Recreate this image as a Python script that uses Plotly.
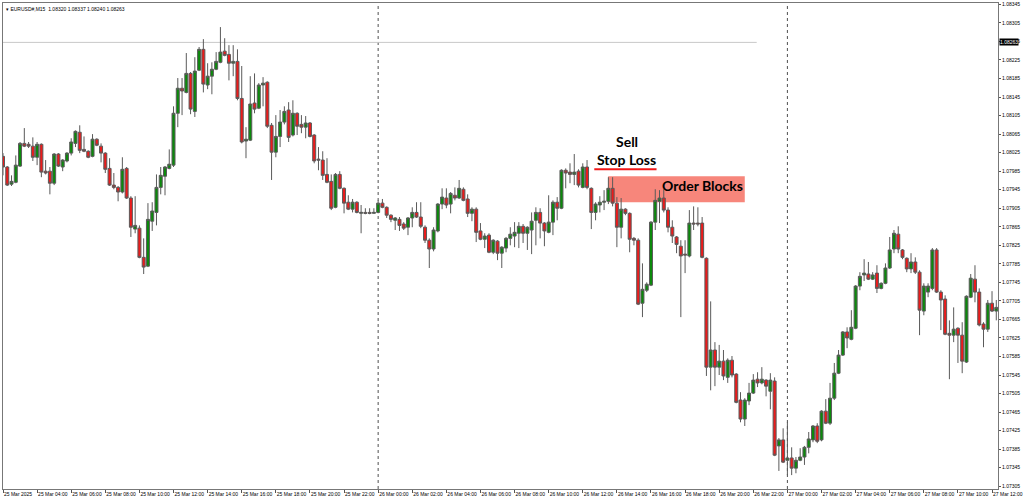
import plotly.graph_objects as go

# ---- data (EURUSD#, M15, 25 Mar 2025 02:00 -> 27 Mar 2025 12:15) ----
opens = [1.08017,1.07994,1.07957,1.07961,1.07996,1.08045,1.08043,1.08039,1.08015,1.08043,
1.07985,1.07985,1.07959,1.08022,1.07994,1.08007,1.08024,1.08045,1.08069,1.08032,
1.08028,1.08017,1.08054,1.08039,1.08024,1.07991,1.07955,1.07950,1.07940,1.07991,
1.07927,1.07860,1.07862,1.07799,1.07780,1.07877,1.07896,1.07950,1.07974,1.07991,
1.07998,1.08110,1.08164,1.08155,1.08196,1.08114,1.08203,1.08248,1.08171,1.08190,
1.08205,1.08220,1.08244,1.08237,1.08218,1.08222,1.08142,1.08050,1.08052,1.08132,
1.08121,1.08171,1.08177,1.08084,1.08026,1.08060,1.08091,1.08117,1.08063,1.08110,
1.08086,1.08080,1.08089,1.08063,1.08011,1.08009,1.07978,1.07963,1.07907,1.07978,
1.07948,1.07918,1.07903,1.07918,1.07894,1.07896,1.07896,1.07894,1.07896,1.07916,
1.07907,1.07890,1.07879,1.07881,1.07871,1.07864,1.07884,1.07896,1.07886,1.07864,
1.07836,1.07817,1.07856,1.07914,1.07927,1.07914,1.07933,1.07927,1.07946,1.07925,
1.07894,1.07903,1.07856,1.07838,1.07847,1.07810,1.07834,1.07808,1.07819,1.07840,
1.07845,1.07851,1.07866,1.07851,1.07858,1.07879,1.07896,1.07873,1.07853,1.07875,
1.07918,1.07905,1.07987,1.07983,1.07978,1.07985,1.07950,1.07994,1.07948,1.07896,
1.07912,1.07918,1.07920,1.07948,1.07916,1.07864,1.07903,1.07894,1.07840,1.07836,
1.07700,1.07728,1.07739,1.07875,1.07920,1.07927,1.07901,1.07864,1.07843,1.07823,
1.07806,1.07802,1.07873,1.07873,1.07873,1.07797,1.07562,1.07599,1.07562,1.07575,
1.07540,1.07577,1.07547,1.07491,1.07450,1.07489,1.07506,1.07536,1.07528,1.07534,
1.07510,1.07532,1.07392,1.07405,1.07361,1.07366,1.07344,1.07361,1.07368,1.07389,
1.07405,1.07435,1.07405,1.07467,1.07441,1.07495,1.07549,1.07588,1.07638,1.07622,
1.07646,1.07737,1.07761,1.07763,1.07752,1.07765,1.07732,1.07743,1.07776,1.07817,
1.07849,1.07815,1.07797,1.07774,1.07789,1.07767,1.07683,1.07724,1.07732,1.07815,
1.07724,1.07709,1.07635,1.07631,1.07646,1.07631,1.07573,1.07713,1.07752,1.07724,
1.07655,1.07644,1.07700,1.07683]
highs = [1.08024,1.07996,1.07976,1.08019,1.08048,1.08078,1.08048,1.08058,1.08048,1.08045,
1.08009,1.07994,1.08024,1.08024,1.08011,1.08026,1.08056,1.08073,1.08084,1.08060,
1.08030,1.08065,1.08056,1.08045,1.08026,1.08013,1.07981,1.07953,1.08015,1.07994,
1.07931,1.07931,1.07868,1.07840,1.07916,1.07918,1.07978,1.07994,1.07996,1.08032,
1.08125,1.08186,1.08186,1.08240,1.08199,1.08231,1.08253,1.08270,1.08218,1.08220,
1.08242,1.08296,1.08272,1.08257,1.08257,1.08248,1.08212,1.08080,1.08190,1.08196,
1.08175,1.08188,1.08179,1.08089,1.08106,1.08117,1.08125,1.08134,1.08138,1.08112,
1.08106,1.08104,1.08091,1.08065,1.08037,1.08028,1.08013,1.07978,1.07981,1.07985,
1.07950,1.07933,1.07925,1.07920,1.07912,1.07905,1.07905,1.07905,1.07922,1.07925,
1.07909,1.07892,1.07886,1.07886,1.07875,1.07886,1.07907,1.07918,1.07918,1.07868,
1.07840,1.07864,1.07916,1.07948,1.07948,1.07940,1.07950,1.07966,1.07950,1.07935,
1.07907,1.07907,1.07873,1.07851,1.07851,1.07838,1.07836,1.07823,1.07843,1.07864,
1.07875,1.07875,1.07871,1.07866,1.07896,1.07907,1.07905,1.07875,1.07933,1.07922,
1.07929,1.07989,1.07991,1.08002,1.08022,1.07989,1.08002,1.08009,1.07950,1.07918,
1.07931,1.07944,1.07972,1.07972,1.07929,1.07927,1.07905,1.07896,1.07843,1.07840,
1.07786,1.07745,1.07877,1.07946,1.07944,1.07946,1.07907,1.07879,1.07845,1.07836,
1.07836,1.07901,1.07909,1.07907,1.07886,1.07799,1.07704,1.07616,1.07610,1.07599,
1.07581,1.07586,1.07549,1.07508,1.07495,1.07528,1.07547,1.07551,1.07562,1.07536,
1.07549,1.07540,1.07409,1.07430,1.07443,1.07389,1.07368,1.07387,1.07392,1.07422,
1.07437,1.07441,1.07469,1.07493,1.07528,1.07571,1.07599,1.07640,1.07648,1.07685,
1.07739,1.07767,1.07795,1.07789,1.07767,1.07782,1.07745,1.07786,1.07843,1.07858,
1.07866,1.07817,1.07799,1.07808,1.07799,1.07771,1.07743,1.07743,1.07819,1.07819,
1.07728,1.07717,1.07663,1.07691,1.07648,1.07659,1.07717,1.07763,1.07782,1.07732,
1.07659,1.07707,1.07726,1.07707]
lows = [1.07976,1.07953,1.07953,1.07959,1.07994,1.08037,1.08035,1.08007,1.07998,1.07972,
1.07978,1.07935,1.07955,1.07994,1.07985,1.08004,1.08019,1.08037,1.08024,1.08026,
1.08013,1.08015,1.08039,1.08004,1.07981,1.07953,1.07946,1.07920,1.07937,1.07925,
1.07843,1.07851,1.07797,1.07763,1.07778,1.07856,1.07868,1.07935,1.07933,1.07989,
1.07994,1.08080,1.08106,1.08153,1.08108,1.08102,1.08201,1.08155,1.08162,1.08151,
1.08203,1.08218,1.08233,1.08181,1.08190,1.08138,1.08045,1.08013,1.08050,1.08110,
1.08119,1.08125,1.08078,1.07966,1.08015,1.08037,1.08086,1.08048,1.08060,1.08063,
1.08067,1.08056,1.08058,1.08002,1.07987,1.07966,1.07959,1.07901,1.07905,1.07946,
1.07894,1.07901,1.07896,1.07894,1.07851,1.07892,1.07892,1.07894,1.07894,1.07905,
1.07884,1.07875,1.07858,1.07856,1.07858,1.07847,1.07864,1.07884,1.07862,1.07830,
1.07776,1.07812,1.07853,1.07903,1.07905,1.07894,1.07922,1.07925,1.07920,1.07886,
1.07877,1.07832,1.07836,1.07819,1.07808,1.07806,1.07793,1.07776,1.07810,1.07825,
1.07821,1.07819,1.07830,1.07815,1.07806,1.07825,1.07840,1.07823,1.07851,1.07847,
1.07879,1.07903,1.07948,1.07959,1.07955,1.07950,1.07948,1.07946,1.07860,1.07879,
1.07896,1.07901,1.07914,1.07909,1.07821,1.07840,1.07890,1.07810,1.07825,1.07696,
1.07670,1.07724,1.07737,1.07858,1.07873,1.07896,1.07853,1.07830,1.07808,1.07670,
1.07765,1.07799,1.07858,1.07866,1.07797,1.07543,1.07512,1.07521,1.07545,1.07534,
1.07528,1.07540,1.07484,1.07443,1.07435,1.07480,1.07504,1.07519,1.07525,1.07499,
1.07471,1.07370,1.07338,1.07355,1.07329,1.07329,1.07333,1.07359,1.07351,1.07376,
1.07400,1.07398,1.07402,1.07439,1.07437,1.07491,1.07547,1.07586,1.07603,1.07620,
1.07644,1.07728,1.07748,1.07750,1.07750,1.07722,1.07730,1.07741,1.07774,1.07808,
1.07808,1.07795,1.07767,1.07765,1.07763,1.07631,1.07674,1.07713,1.07728,1.07722,
1.07642,1.07631,1.07536,1.07616,1.07571,1.07549,1.07571,1.07711,1.07702,1.07650,
1.07605,1.07638,1.07681,1.07663]
closes = [1.07994,1.07955,1.07963,1.07998,1.08045,1.08039,1.08039,1.08015,1.08043,1.07983,
1.07981,1.07959,1.08022,1.07996,1.08009,1.08024,1.08048,1.08071,1.08030,1.08028,
1.08015,1.08054,1.08041,1.08024,1.07989,1.07955,1.07950,1.07940,1.07989,1.07927,
1.07864,1.07868,1.07799,1.07778,1.07881,1.07899,1.07950,1.07976,1.07994,1.08000,
1.08110,1.08164,1.08158,1.08196,1.08119,1.08201,1.08248,1.08173,1.08190,1.08205,
1.08222,1.08242,1.08235,1.08218,1.08222,1.08142,1.08048,1.08054,1.08130,1.08119,
1.08171,1.08175,1.08082,1.08026,1.08060,1.08091,1.08114,1.08058,1.08110,1.08082,
1.08080,1.08089,1.08060,1.08007,1.08009,1.07976,1.07961,1.07905,1.07978,1.07948,
1.07916,1.07903,1.07918,1.07896,1.07896,1.07894,1.07894,1.07896,1.07916,1.07907,
1.07890,1.07881,1.07884,1.07868,1.07862,1.07884,1.07896,1.07886,1.07866,1.07836,
1.07817,1.07858,1.07914,1.07929,1.07912,1.07937,1.07927,1.07948,1.07922,1.07894,
1.07903,1.07853,1.07838,1.07845,1.07810,1.07836,1.07808,1.07821,1.07840,1.07849,
1.07853,1.07866,1.07851,1.07864,1.07877,1.07896,1.07873,1.07856,1.07875,1.07918,
1.07905,1.07987,1.07981,1.07978,1.07983,1.07955,1.07994,1.07950,1.07896,1.07914,
1.07918,1.07920,1.07948,1.07916,1.07864,1.07903,1.07894,1.07838,1.07836,1.07698,
1.07730,1.07741,1.07875,1.07922,1.07927,1.07901,1.07864,1.07845,1.07827,1.07802,
1.07804,1.07873,1.07871,1.07871,1.07799,1.07562,1.07599,1.07562,1.07575,1.07543,
1.07577,1.07545,1.07486,1.07450,1.07491,1.07506,1.07534,1.07528,1.07536,1.07521,
1.07534,1.07372,1.07405,1.07357,1.07366,1.07344,1.07361,1.07368,1.07389,1.07407,
1.07435,1.07402,1.07467,1.07441,1.07495,1.07549,1.07588,1.07638,1.07625,1.07648,
1.07737,1.07758,1.07765,1.07752,1.07761,1.07732,1.07743,1.07776,1.07815,1.07851,
1.07817,1.07799,1.07774,1.07789,1.07767,1.07685,1.07737,1.07737,1.07815,1.07724,
1.07707,1.07633,1.07631,1.07644,1.07631,1.07575,1.07715,1.07754,1.07724,1.07653,
1.07644,1.07700,1.07683,1.07691]

tick_bars = [0,8,16,24,32,40,48,56,64,72,80,88,96,104,112,120,128,136,144,152,
             160,168,176,184,192,200,208,216,224,232]
tick_labels = ["25 Mar 2025","25 Mar 04:00","25 Mar 06:00","25 Mar 08:00","25 Mar 10:00",
    "25 Mar 12:00","25 Mar 14:00","25 Mar 16:00","25 Mar 18:00","25 Mar 20:00",
    "25 Mar 22:00","26 Mar 00:00","26 Mar 02:00","26 Mar 04:00","26 Mar 06:00",
    "26 Mar 08:00","26 Mar 10:00","26 Mar 12:00","26 Mar 14:00","26 Mar 16:00",
    "26 Mar 18:00","26 Mar 20:00","26 Mar 22:00","27 Mar 00:00","27 Mar 02:00",
    "27 Mar 04:00","27 Mar 06:00","27 Mar 08:00","27 Mar 10:00","27 Mar 12:00"]
day_separators = [88, 184]
bid_price = 1.08263
header = "EURUSD#,M15  1.08320 1.08337 1.08240 1.08263"
# zone annotations (bar index / price)
order_block = dict(x0=141.95, x1=174.0, y0=1.07918, y1=1.07974)
stop_loss = dict(x0=138.7, x1=153.3, y=1.07989)
bid_line_end = 176.8

bars = list(range(len(opens)))
x_range = [0, 233.4]

fig = go.Figure()
fig.add_trace(go.Candlestick(
    x=bars, open=opens, high=highs, low=lows, close=closes,
    increasing=dict(line=dict(color="#5a5a5a", width=1), fillcolor="#0b8a0b"),
    decreasing=dict(line=dict(color="#5a5a5a", width=1), fillcolor="#ec1b1b"),
    whiskerwidth=0, showlegend=False, hoverinfo="skip"))

shapes = []
shapes.append(dict(type="rect", xref="x", yref="y", layer="below",
                   x0=order_block["x0"], x1=order_block["x1"],
                   y0=order_block["y0"], y1=order_block["y1"],
                   fillcolor="#f7867b", line=dict(width=0)))
shapes.append(dict(type="line", xref="x", yref="y", x0=stop_loss["x0"], x1=stop_loss["x1"],
                   y0=stop_loss["y"], y1=stop_loss["y"], line=dict(color="#f01818", width=2)))
for b in day_separators:
    shapes.append(dict(type="line", xref="x", yref="paper", x0=b, x1=b, y0=0, y1=1,
                       line=dict(color="#505050", width=1, dash="dot"), layer="below"))
shapes.append(dict(type="line", xref="paper", yref="y", x0=0,
                   x1=(bid_line_end - x_range[0]) / (x_range[1] - x_range[0]),
                   y0=bid_price, y1=bid_price, line=dict(color="#c8c8c8", width=1), layer="below"))

annotations = [
    dict(text="<b>Sell</b>", x=146.3, y=1.08048, xref="x", yref="y", showarrow=False,
         font=dict(family="Lato", size=14, color="black")),
    dict(text="<b>Stop Loss</b>", x=146.3, y=1.08010, xref="x", yref="y", showarrow=False,
         font=dict(family="Lato", size=14, color="black")),
    dict(text="<b>Order Blocks</b>", x=164.1, y=1.07955, xref="x", yref="y", showarrow=False,
         font=dict(family="Lato", size=14, color="black")),
    dict(text="\u25BE " + header, x=0, y=1, xref="paper", yref="paper", xanchor="left",
         yanchor="top", xshift=1, yshift=-1, showarrow=False,
         font=dict(family="Liberation Sans", size=5, color="black")),
    dict(text="1.08263", x=1, y=bid_price, xref="paper", yref="y", xanchor="left",
         yanchor="middle", xshift=1, showarrow=False, bgcolor="black", borderpad=0,
         font=dict(family="Liberation Sans", size=5, color="white")),
]

fig.update_layout(
    width=1024, height=501,
    margin=dict(l=3, r=26, t=3, b=12, pad=0, autoexpand=False),
    paper_bgcolor="white", plot_bgcolor="white",
    boxgap=0.3, boxgroupgap=0,
    shapes=shapes, annotations=annotations,
    font=dict(family="Liberation Sans", size=5, color="black"),
    xaxis=dict(range=x_range, rangeslider=dict(visible=False), showgrid=False,
               zeroline=False, tickmode="array", tickvals=tick_bars, ticktext=tick_labels,
               tickangle=0, automargin=False,
               ticks="outside", ticklen=3, tickcolor="#555", ticklabelposition="outside right",
               ticklabeloverflow="allow", showline=True, linecolor="#777", linewidth=1,
               mirror=True, tickfont=dict(family="Liberation Sans", size=5, color="black")),
    yaxis=dict(range=[1.07299, 1.08348], side="right", showgrid=False, zeroline=False,
               automargin=False, ticklabeloverflow="allow",
               tick0=1.07305, dtick=0.0004, tickformat=".5f", ticks="outside", ticklen=2,
               tickcolor="#555", showline=True, linecolor="#777", linewidth=1, mirror=True,
               tickfont=dict(family="Liberation Sans", size=5, color="black")),
)

fig.write_html("out.html", config={"displayModeBar": False},
               post_script="document.body.style.margin='0px';document.body.style.overflow='hidden';")
